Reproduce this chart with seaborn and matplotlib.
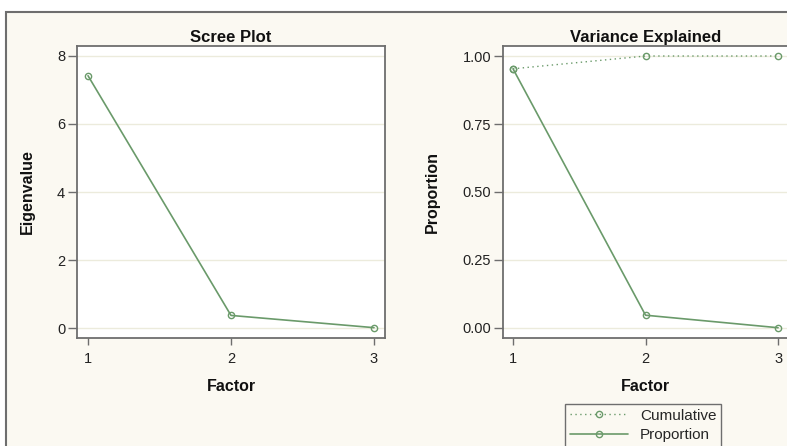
import matplotlib

matplotlib.use("Agg")

import matplotlib.pyplot as plt
import pandas as pd
import seaborn as sns
from matplotlib.patches import Rectangle
from matplotlib.ticker import FormatStrFormatter

factors = [1, 2, 3]
eigenvalues = [7.42, 0.37, 0.01]
proportion = [0.953, 0.047, 0.001]
cumulative = [0.953, 1.000, 1.000]

eigen_ticks = [0, 2, 4, 6, 8]
prop_ticks = [0.00, 0.25, 0.50, 0.75, 1.00]

LINE = "#6a9a6a"
CREAM = "#fbf9f2"
GRID = "#ecebdc"
FRAME = "#6e6e6e"
W, H = 787, 446

sns.set_style("white")
plt.rcParams["font.family"] = ["Liberation Sans", "DejaVu Sans"]

fig = plt.figure(figsize=(W / 100, H / 100), dpi=100)
fig.patch.set_facecolor("white")

# cream panel with the grey frame on top and left
fig.add_artist(
    Rectangle((6 / W, -0.1), 1.2, 1 - 11.5 / H + 0.1, transform=fig.transFigure,
              facecolor=CREAM, edgecolor=FRAME, linewidth=1.5, zorder=0)
)

ax1 = fig.add_axes([77 / W, 1 - 338 / H, 308 / W, 292 / H])
ax2 = fig.add_axes([503 / W, 1 - 338 / H, 285 / W, 292 / H])

scree = pd.DataFrame({"Factor": factors, "Eigenvalue": eigenvalues})
var = pd.DataFrame({"Factor": factors, "Proportion": proportion, "Cumulative": cumulative})

marker_kw = dict(marker="o", markersize=4.5, markerfacecolor="none",
                 markeredgecolor=LINE, markeredgewidth=1.0)

sns.lineplot(data=scree, x="Factor", y="Eigenvalue", ax=ax1, color=LINE,
             linewidth=1.2, **marker_kw)
sns.lineplot(data=var, x="Factor", y="Cumulative", ax=ax2, color=LINE,
             linewidth=1.0, linestyle=(0, (1, 2.5)), label="Cumulative", **marker_kw)
sns.lineplot(data=var, x="Factor", y="Proportion", ax=ax2, color=LINE,
             linewidth=1.2, label="Proportion", **marker_kw)

ax1.set_ylim(-0.294, 8.294)
ax1.set_yticks(eigen_ticks)
ax1.set_xlim(0.923, 3.077)
ax2.set_ylim(-0.0368, 1.0368)
ax2.set_yticks(prop_ticks)
ax2.yaxis.set_major_formatter(FormatStrFormatter("%.2f"))
ax2.set_xlim(0.9245, 3.075)

for ax, title, ylabel, ylab_x in [
    (ax1, "Scree Plot", "Eigenvalue", (27 - 77) / 308),
    (ax2, "Variance Explained", "Proportion", (432 - 503) / 285),
]:
    ax.set_facecolor("white")
    ax.set_xticks(factors)
    ax.set_xticklabels([str(f) for f in factors])
    ax.grid(axis="y", color=GRID, linewidth=1.0)
    ax.set_axisbelow(True)
    for s in ax.spines.values():
        s.set_color(FRAME)
        s.set_linewidth(1.3)
    ax.tick_params(axis="both", colors=FRAME, labelcolor="#222222", labelsize=10.5,
                   width=1.0, left=True, bottom=True)
    ax.tick_params(axis="y", length=6.5, pad=2)
    ax.tick_params(axis="x", length=5, pad=5)
    ax.set_title(title, fontsize=12, fontweight="bold", pad=3, color="#111111")
    ax.set_xlabel("Factor", fontsize=11.5, fontweight="bold", color="#111111")
    ax.set_ylabel(ylabel, fontsize=11.5, fontweight="bold", color="#111111")
    ax.xaxis.set_label_coords(0.5, -0.142)
    ax.yaxis.set_label_coords(ylab_x, 0.5)
    ax.yaxis.label.set_va("center")

handles, labels = ax2.get_legend_handles_labels()
ax2.get_legend().remove()
leg = fig.legend(handles, labels, loc="upper left",
                 bbox_to_anchor=(565 / W, 1 - 404 / H), borderaxespad=0,
                 fontsize=11, handlelength=3.85, handletextpad=0.75,
                 borderpad=0.3, labelspacing=0.35, frameon=True, fancybox=False)
leg.get_frame().set_facecolor(CREAM)
leg.get_frame().set_edgecolor(FRAME)
leg.get_frame().set_linewidth(1.0)
leg.get_frame().set_alpha(1)

fig.savefig("out.png", dpi=100)
